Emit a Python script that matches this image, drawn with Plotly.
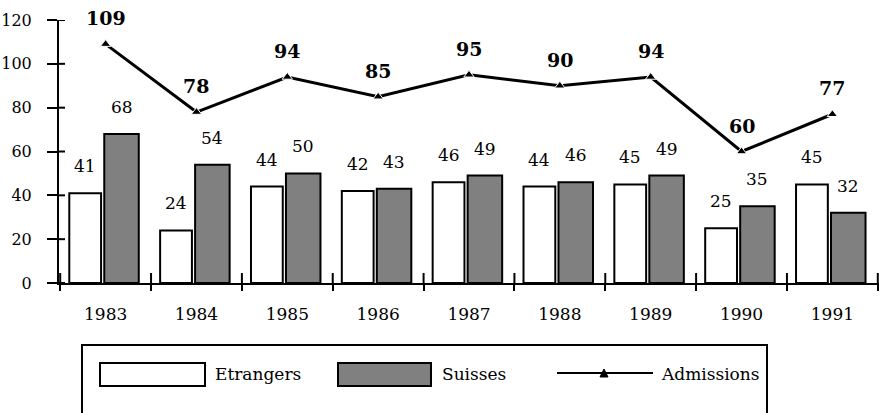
import plotly.graph_objects as go

years = ["1983", "1984", "1985", "1986", "1987", "1988", "1989", "1990", "1991"]
etrangers = [41, 24, 44, 42, 46, 44, 45, 25, 45]
suisses = [68, 54, 50, 43, 49, 46, 49, 35, 32]
admissions = [109, 78, 94, 85, 95, 90, 94, 60, 77]
y_ticks = [0, 20, 40, 60, 80, 100, 120]

FONT = "DejaVu Serif"
L, R, T, B = 59, 1, 20, 130
W, H = 880, 413
PW, PH = W - L - R, H - T - B

def px_x(p):
    return (p - L) / PW

def px_y(p):
    return (H - B - p) / PH

w_off, w_w = -0.40, 0.35
s_off, s_w = -0.015, 0.38

fig = go.Figure()
fig.add_trace(go.Bar(x=years, y=etrangers, name="Etrangers", offset=w_off, width=w_w,
                     marker=dict(color="white", line=dict(color="black", width=2))))
fig.add_trace(go.Bar(x=years, y=suisses, name="Suisses", offset=s_off, width=s_w,
                     marker=dict(color="#808080", line=dict(color="black", width=2))))
fig.add_trace(go.Scatter(x=years, y=admissions, name="Admissions", mode="lines+markers",
                         line=dict(color="black", width=3),
                         marker=dict(symbol="triangle-up", size=9, color="black",
                                     line=dict(color="white", width=1))))

annotations = []
for i, (e, s, a) in enumerate(zip(etrangers, suisses, admissions)):
    annotations.append(dict(x=i + w_off + w_w / 2, y=e, xref="x", yref="y", text=str(e),
                            showarrow=False, yshift=27, font=dict(family=FONT, size=17, color="black")))
    annotations.append(dict(x=i + s_off + s_w / 2, y=s, xref="x", yref="y", text=str(s),
                            showarrow=False, yshift=27, font=dict(family=FONT, size=17, color="black")))
    annotations.append(dict(x=i, y=a, xref="x", yref="y", text="<b>%d</b>" % a,
                            showarrow=False, yshift=26, font=dict(family=FONT, size=19, color="black")))

shapes = []
for v in y_ticks:
    shapes.append(dict(type="line", xref="paper", yref="y", x0=0, x1=6 / PW, y0=v, y1=v,
                       line=dict(color="black", width=2)))
for i in range(len(years) + 1):
    shapes.append(dict(type="line", xref="x", yref="paper", x0=i - 0.5, x1=i - 0.5,
                       y0=0, y1=10 / PH, line=dict(color="black", width=2)))

# manual legend
shapes.append(dict(type="rect", xref="paper", yref="paper", x0=px_x(82), x1=px_x(767),
                   y0=px_y(345), y1=px_y(440), line=dict(color="black", width=2), fillcolor="white"))
shapes.append(dict(type="rect", xref="paper", yref="paper", x0=px_x(100), x1=px_x(205),
                   y0=px_y(363), y1=px_y(386), line=dict(color="black", width=2), fillcolor="white"))
shapes.append(dict(type="rect", xref="paper", yref="paper", x0=px_x(338), x1=px_x(431),
                   y0=px_y(363), y1=px_y(386), line=dict(color="black", width=2), fillcolor="#808080"))
shapes.append(dict(type="line", xref="paper", yref="paper", x0=px_x(557), x1=px_x(653),
                   y0=px_y(373), y1=px_y(373), line=dict(color="black", width=2)))
tx, ty = 604, 373
shapes.append(dict(type="path", xref="paper", yref="paper",
                   path="M %f %f L %f %f L %f %f Z" % (px_x(tx - 4), px_y(ty + 4), px_x(tx + 4), px_y(ty + 4),
                                                       px_x(tx), px_y(ty - 4)),
                   fillcolor="black", line=dict(color="black", width=1)))
for label, lx in [("Etrangers", 213), ("Suisses", 440), ("Admissions", 659)]:
    annotations.append(dict(x=px_x(lx), y=px_y(374), xref="paper", yref="paper", text=label,
                            showarrow=False, xanchor="left", yanchor="middle",
                            font=dict(family=FONT, size=17, color="black")))

fig.update_layout(
    width=W, height=H, margin=dict(l=L, r=R, t=T, b=B, autoexpand=False),
    paper_bgcolor="white", plot_bgcolor="white", showlegend=False,
    barmode="overlay",
    font=dict(family=FONT, color="black"),
    annotations=annotations, shapes=shapes,
    xaxis=dict(type="category", showline=True, linecolor="black", linewidth=2,
               ticks="outside", tickson="boundaries", ticklen=6, tickwidth=2, tickcolor="black",
               showgrid=False, zeroline=False, ticklabelstandoff=15, automargin=False,
               tickfont=dict(family=FONT, size=17, color="black")),
    yaxis=dict(range=[0, 120], tickvals=y_ticks, showline=True, linecolor="black", linewidth=2,
               ticks="outside", ticklen=10, tickwidth=2, tickcolor="black",
               showgrid=False, zeroline=False, ticklabelstandoff=12, automargin=False,
               tickfont=dict(family=FONT, size=16, color="black")),
)

fig.write_html("out.html", config={"displayModeBar": False},
               post_script="document.body.style.margin='0';")
